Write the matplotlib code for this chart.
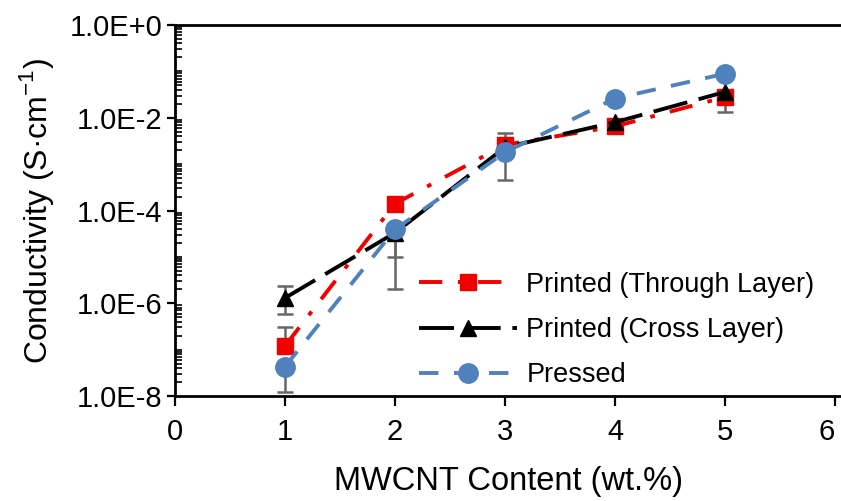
import numpy as np
import matplotlib
matplotlib.use("Agg")
import matplotlib.pyplot as plt
from matplotlib.ticker import LogLocator, NullFormatter

plt.rcParams['font.family'] = ['Liberation Sans', 'DejaVu Sans']
plt.rcParams['mathtext.fontset'] = 'custom'
plt.rcParams['mathtext.rm'] = 'Liberation Sans'

# data
wt = [1, 2, 3, 4, 5]

through = [1.2e-7, 1.4e-4, 2.6e-3, 6.5e-3, 2.8e-2]
through_lo = [0.0, 0.0, 0.0, 0.0, 0.0]
through_hi = [1.8e-7, 0.0, 0.0, 0.0, 0.0]

cross = [1.3e-6, 3.3e-5, 2.3e-3, 8.0e-3, 3.6e-2]
cross_lo = [7.0e-7, 3.1e-5, 0.0, 0.0, 2.3e-2]
cross_hi = [1.0e-6, 0.0, 2.4e-3, 0.0, 0.0]

pressed = [4.3e-8, 3.9e-5, 1.8e-3, 2.6e-2, 8.9e-2]
pressed_lo = [3.1e-8, 2.9e-5, 1.35e-3, 0.0, 0.0]
pressed_hi = [0.0, 0.0, 0.0, 0.0, 0.0]

ytick_vals = [1e-8, 1e-6, 1e-4, 1e-2, 1e0]
ytick_labels = ['1.0E-8', '1.0E-6', '1.0E-4', '1.0E-2', '1.0E+0']
xtick_vals = [0, 1, 2, 3, 4, 5, 6]

red = '#f20000'
blue = '#4f81bd'
errc = '#666666'

fig = plt.figure(figsize=(8.41, 5.01), dpi=100)
ax = fig.add_axes([175 / 841, 105 / 501, 666 / 841, 371 / 501])

# error bars first (grey), then the series on top
for y, lo, hi in [(through, through_lo, through_hi),
                  (cross, cross_lo, cross_hi),
                  (pressed, pressed_lo, pressed_hi)]:
    ax.errorbar(wt, y, yerr=[lo, hi], fmt='none', ecolor=errc,
                elinewidth=1.8, capsize=6, capthick=1.8, zorder=2)

ax.plot(wt, through, color=red, lw=2.8, linestyle=(0, (6, 4, 1.2, 4)),
        marker='s', ms=12, mec=red, label='Printed (Through Layer)', zorder=3)
ax.plot(wt, cross, color='black', lw=2.8, linestyle=(0, (9, 3)),
        marker='^', ms=12, mec='black', label='Printed (Cross Layer)', zorder=4)
ax.plot(wt, pressed, color=blue, lw=2.8, linestyle=(0, (5, 4)),
        marker='o', ms=14, mec=blue, label='Pressed', zorder=5)

ax.set_yscale('log')
ax.set_ylim(1e-8, 1e0)
ax.set_xlim(0, 6.055)

ax.set_yticks(ytick_vals)
ax.set_yticklabels(ytick_labels)
ax.yaxis.set_minor_locator(LogLocator(base=10, subs=np.arange(1, 10), numticks=100))
ax.yaxis.set_minor_formatter(NullFormatter())
ax.set_xticks(xtick_vals)

ax.tick_params(axis='y', which='major', direction='out', length=6, width=1.6,
               labelsize=21, pad=3)
ax.tick_params(axis='y', which='minor', direction='in', length=5, width=1.2)
ax.tick_params(axis='x', which='major', direction='out', length=7, width=1.6,
               labelsize=21, pad=9)
# last label sits at the figure edge
ax.get_xticklabels()[-1].set_horizontalalignment('right')

for side in ['left', 'bottom', 'top']:
    ax.spines[side].set_linewidth(2)
ax.spines['right'].set_visible(False)

ax.set_xlabel('MWCNT Content (wt.%)', fontsize=23.5, labelpad=14)
ax.set_ylabel('Conductivity (S·cm$^{-1}$)', fontsize=23, labelpad=10)

ax.legend(loc='center', bbox_to_anchor=(617 / 841, 1 - 330 / 501),
          bbox_transform=fig.transFigure, frameon=False,
          fontsize=19.5, handlelength=3.6, handletextpad=0.35,
          labelspacing=0.72, borderpad=0)

fig.savefig('out.png', dpi=100)
